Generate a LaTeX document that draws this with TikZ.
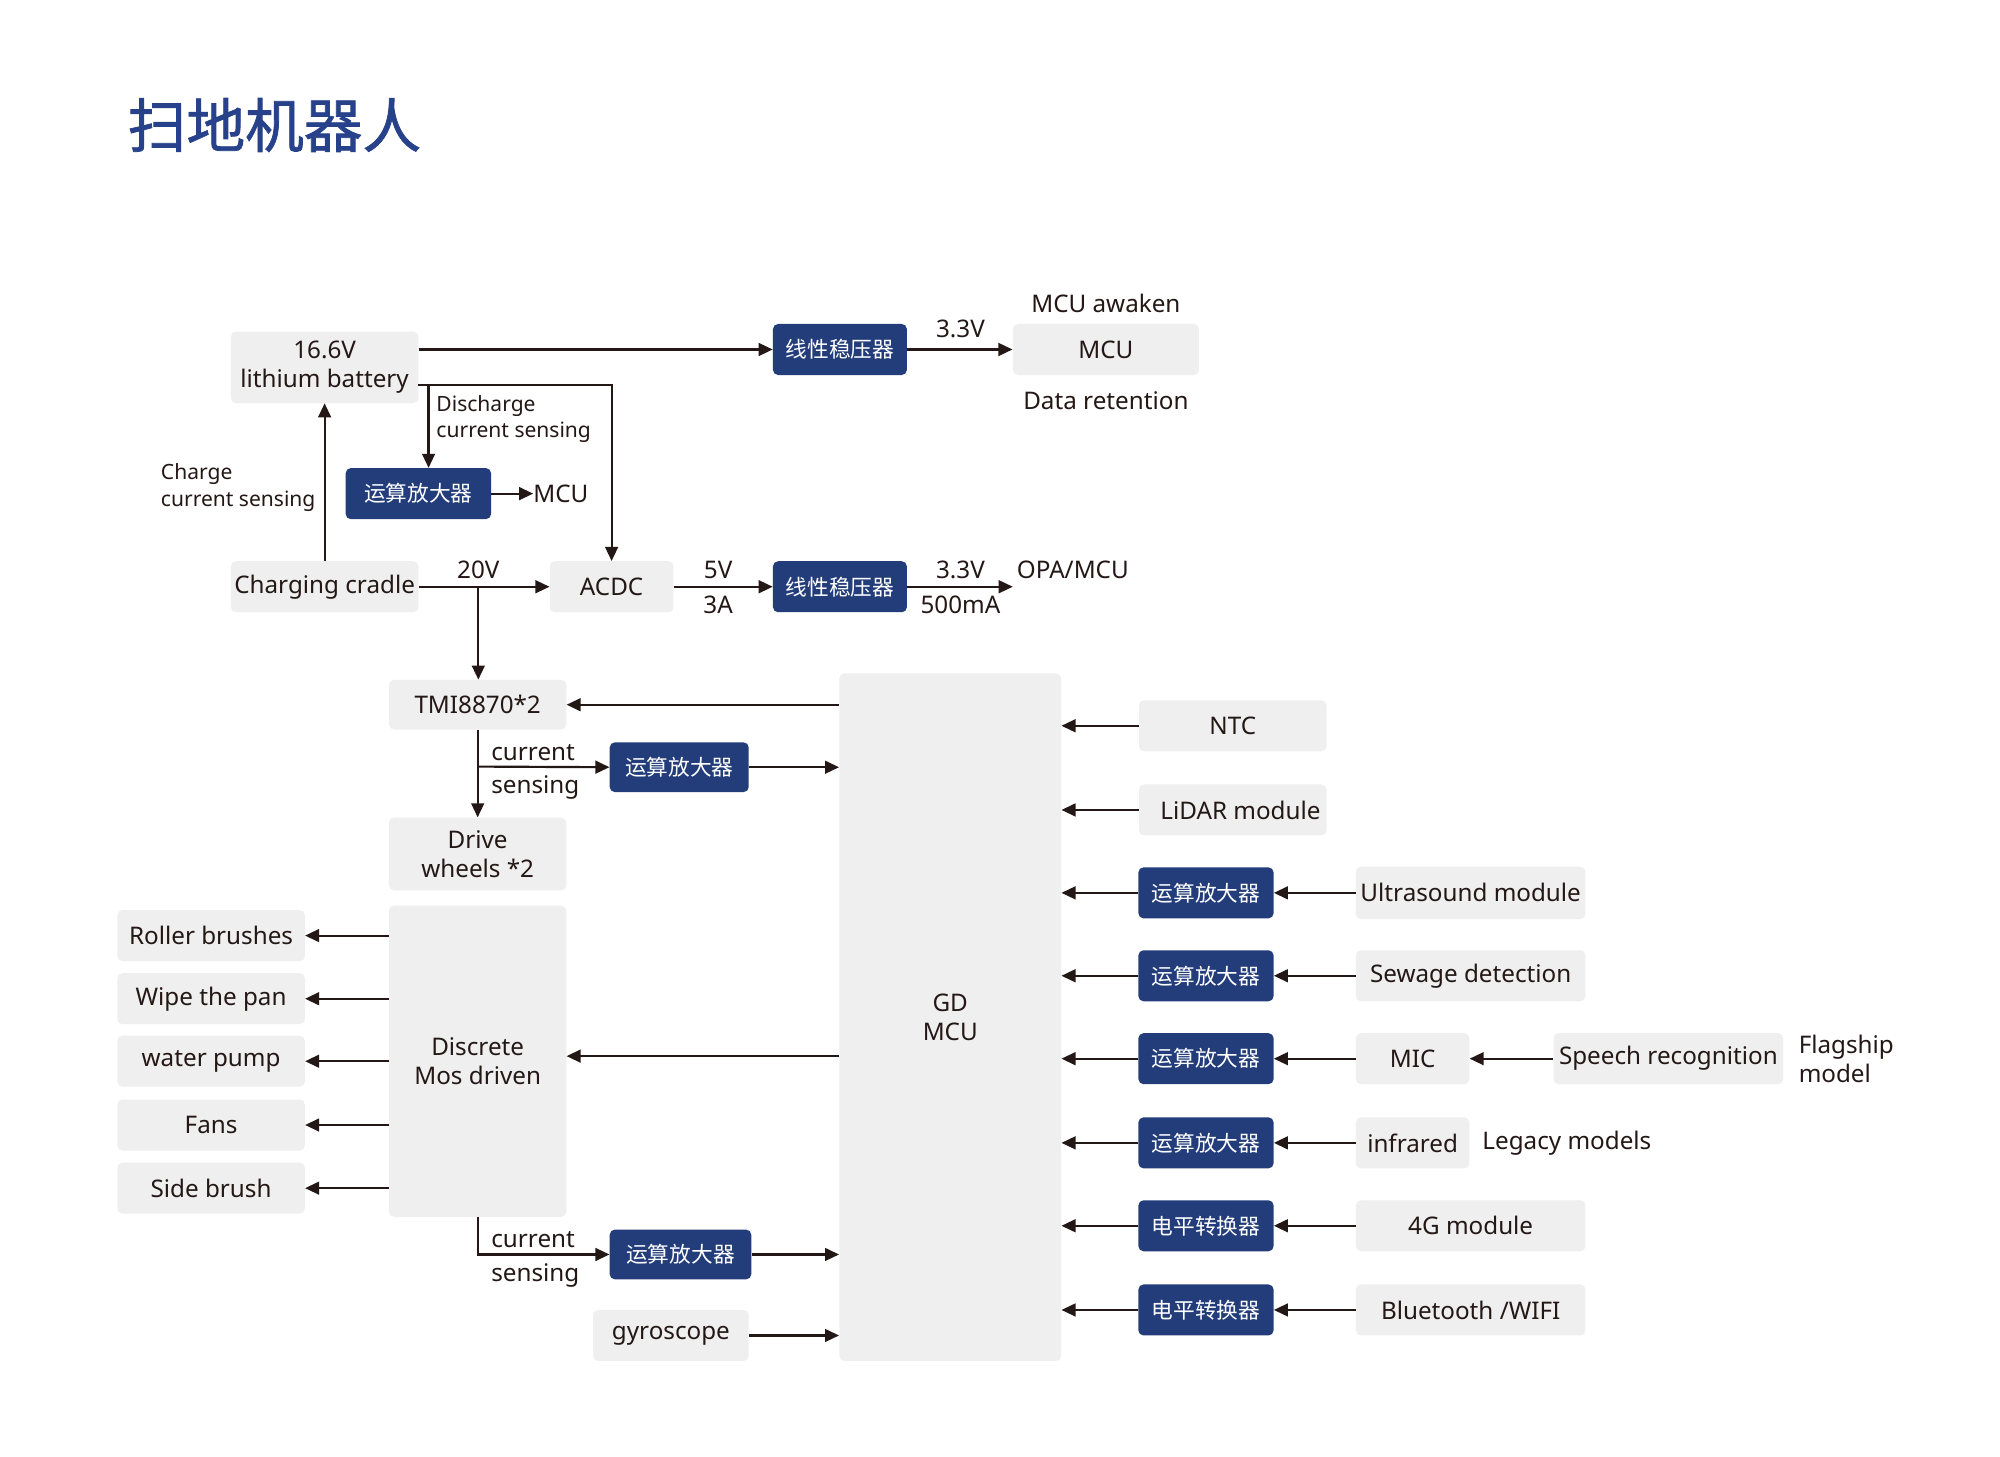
\documentclass[tikz,border=0pt]{standalone}
\usepackage{fontspec}
\setmainfont{Noto Sans}
\newfontfamily\cjk{Noto Sans CJK SC}
\newfontfamily\cjkt[FakeBold=1.3]{Noto Sans CJK SC}
\usetikzlibrary{arrows.meta}
\definecolor{navy}{HTML}{233D7B}
\definecolor{boxgray}{HTML}{EFEFEF}
\definecolor{ink}{HTML}{231815}
\definecolor{titleblue}{HTML}{27428A}
\newcommand\fsB{\fontsize{19}{23}\selectfont}
\newcommand\fsS{\fontsize{16.5}{21}\selectfont}
\newcommand\fsC{\fontsize{17}{20}\selectfont}
\tikzset{
  gbox/.style={fill=boxgray, rounded corners=4pt, inner sep=0pt, align=center, font=\fsB, text=ink},
  bbox/.style={fill=navy, rounded corners=4pt, inner sep=0pt, font=\cjk\fsC, text=white, minimum height=40},
  lbl/.style={inner sep=0pt, font=\fsB, text=ink},
  slbl/.style={inner sep=0pt, font=\fsS, text=ink, align=left},
  arr/.style={-{Triangle[length=11pt,width=10pt]}, line width=1.7pt, draw=ink},
  ln/.style={line width=1.7pt, draw=ink}
}
\begin{document}
\begin{tikzpicture}[x=1pt,y=-1pt]
\useasboundingbox (0,0) rectangle (1568,1142);
\fill[white] (0,0) rectangle (1568,1142);
% title
\node[inner sep=0pt, anchor=west, text=titleblue, font=\cjkt\fontsize{46}{50}\selectfont] (title) at (100,98) {扫地机器人};

% top power section
\node[gbox, minimum width=147, minimum height=56] (bat) at (254.5,288) {16.6V\\lithium battery};
\node[bbox, minimum width=105] (ldo1) at (658.5,274) {线性稳压器};
\node[gbox, minimum width=146, minimum height=40] (mcu) at (867,274) {MCU};
\node[lbl] (awk) at (867,238) {MCU awaken};
\node[lbl] (ret) at (867,314) {Data retention};
\node[lbl] (v33a) at (753,258) {3.3V};
\node[bbox, minimum width=114] (opa1) at (328,387) {运算放大器};
\node[lbl, anchor=west] (mcut) at (418,387) {MCU};
\node[slbl, anchor=west] (dis) at (342,328.5) {Discharge\\current sensing};
\node[slbl, anchor=west] (chg) at (126,382.5) {Charge\\current sensing};
\node[gbox, minimum width=147, minimum height=40] (cradle) at (254.5,460) {Charging cradle};
\node[gbox, minimum width=97, minimum height=40] (acdc) at (479.5,460) {ACDC};
\node[bbox, minimum width=105] (ldo2) at (658.5,460) {线性稳压器};
\node[lbl] (v20) at (375,447) {20V};
\node[lbl] (v5) at (563,447) {5V};
\node[lbl] (a3) at (563,474) {3A};
\node[lbl] (v33b) at (753,447) {3.3V};
\node[lbl] (ma) at (753,474) {500mA};
\node[lbl, anchor=west] (opamcu) at (797,447) {OPA/MCU};

\coordinate (d0) at (328,302);
\coordinate (dbr) at (336,302);
\coordinate (b20) at (375,460);
\coordinate (opaend) at (794,460);

\draw[arr] (bat.east |- ldo1.west) -- (ldo1.west);
\draw[arr] (ldo1.east) -- (mcu.west);
\draw[arr] (d0) -| (acdc.north);
\draw[arr] (dbr) -- (dbr |- opa1.north);
\draw[arr] (opa1.east) -- (mcut.west);
\draw[arr] (cradle.north) -- (bat.south);
\draw[arr] (cradle.east) -- (acdc.west);
\draw[arr] (acdc.east) -- (ldo2.west);
\draw[arr] (ldo2.east) -- (opaend);

% middle
\node[gbox, minimum width=174, minimum height=539] (gd) at (745,797.5) {GD\\MCU};
\node[gbox, minimum width=139, minimum height=39] (tmi) at (374.5,552.5) {TMI8870*2};
\node[gbox, minimum width=139, minimum height=57] (wheels) at (374.5,669.5) {Drive\\wheels *2};
\node[bbox, minimum width=109, minimum height=39] (opa2) at (532.5,601.5) {运算放大器};
\node[lbl, anchor=west] (cur1) at (385,590) {current};
\node[lbl, anchor=west] (sen1) at (385,617) {sensing};
\node[gbox, minimum width=139, minimum height=244] (disc) at (374.5,832) {Discrete\\Mos driven};
\node[gbox, minimum width=147, minimum height=40] (roll) at (165.5,733.5) {Roller brushes};
\node[gbox, minimum width=147, minimum height=40] (wipe) at (165.5,783) {Wipe the pan};
\node[gbox, minimum width=147, minimum height=40] (pump) at (165.5,832) {water pump};
\node[gbox, minimum width=147, minimum height=40] (fans) at (165.5,882) {Fans};
\node[gbox, minimum width=147, minimum height=40] (side) at (165.5,931.5) {Side brush};
\node[bbox, minimum width=111, minimum height=39] (opa3) at (533.5,983.5) {运算放大器};
\node[lbl, anchor=west] (cur2) at (385,972) {current};
\node[lbl, anchor=west] (sen2) at (385,1000) {sensing};
\node[gbox, minimum width=122, minimum height=40] (gyro) at (526,1047) {gyroscope};

\coordinate (btmi) at (375,601);
\coordinate (gdd) at (658,828);
\draw[arr] (b20) -- (b20 |- tmi.north);
\draw[arr] (gd.west |- tmi) -- (tmi.east);
\draw[arr] (tmi.south) -- (wheels.north);
\draw[arr] (btmi) -- (opa2.west);
\draw[arr] (opa2.east) -- (gd.west |- opa2);
\draw[arr] (gdd) -- (disc.east |- gdd);
\foreach \n in {roll,wipe,pump,fans,side}{
  \draw[arr] (disc.west |- \n) -- (\n.east);
}
\draw[arr] (disc.south) |- (opa3.west);
\draw[arr] (opa3.east) -- (gd.west |- opa3);
\draw[arr] (gyro.east) -- (gd.west |- gyro);

% right side
\node[gbox, minimum width=147, minimum height=40] (ntc) at (966.5,569) {NTC};
\node[gbox, minimum width=147, minimum height=40] (lidar) at (966.5,635) {\hspace{12pt}LiDAR module};
\node[bbox, minimum width=106] (oU) at (945.5,700) {运算放大器};
\node[bbox, minimum width=106] (oS) at (945.5,765) {运算放大器};
\node[bbox, minimum width=106] (oM) at (945.5,830) {运算放大器};
\node[bbox, minimum width=106] (oI) at (945.5,896) {运算放大器};
\node[bbox, minimum width=106] (l4) at (945.5,961) {电平转换器};
\node[bbox, minimum width=106] (lB) at (945.5,1027) {电平转换器};
\node[gbox, minimum width=180, minimum height=41] (us) at (1153,700) {Ultrasound module};
\node[gbox, minimum width=180, minimum height=40] (sew) at (1153,765) {Sewage detection};
\node[gbox, minimum width=89, minimum height=40] (mic) at (1107.5,830) {MIC};
\node[gbox, minimum width=180, minimum height=40] (speech) at (1308,830) {Speech recognition};
\node[slbl, font=\fsB, anchor=west] (flag) at (1410,830) {Flagship\\model};
\node[gbox, minimum width=89, minimum height=40] (ir) at (1107.5,896) {infrared};
\node[lbl, anchor=west] (legacy) at (1162,896) {Legacy models};
\node[gbox, minimum width=180, minimum height=40] (g4) at (1153,961) {4G module};
\node[gbox, minimum width=180, minimum height=40] (bt) at (1153,1027) {Bluetooth /WIFI};

\draw[arr] (ntc.west) -- (gd.east |- ntc);
\draw[arr] (lidar.west) -- (gd.east |- lidar);
\foreach \o/\s in {oU/us,oS/sew,oM/mic,oI/ir,l4/g4,lB/bt}{
  \draw[arr] (\s.west) -- (\o.east);
  \draw[arr] (\o.west) -- (gd.east |- \o);
}
\draw[arr] (speech.west) -- (mic.east);
\end{tikzpicture}
\end{document}
